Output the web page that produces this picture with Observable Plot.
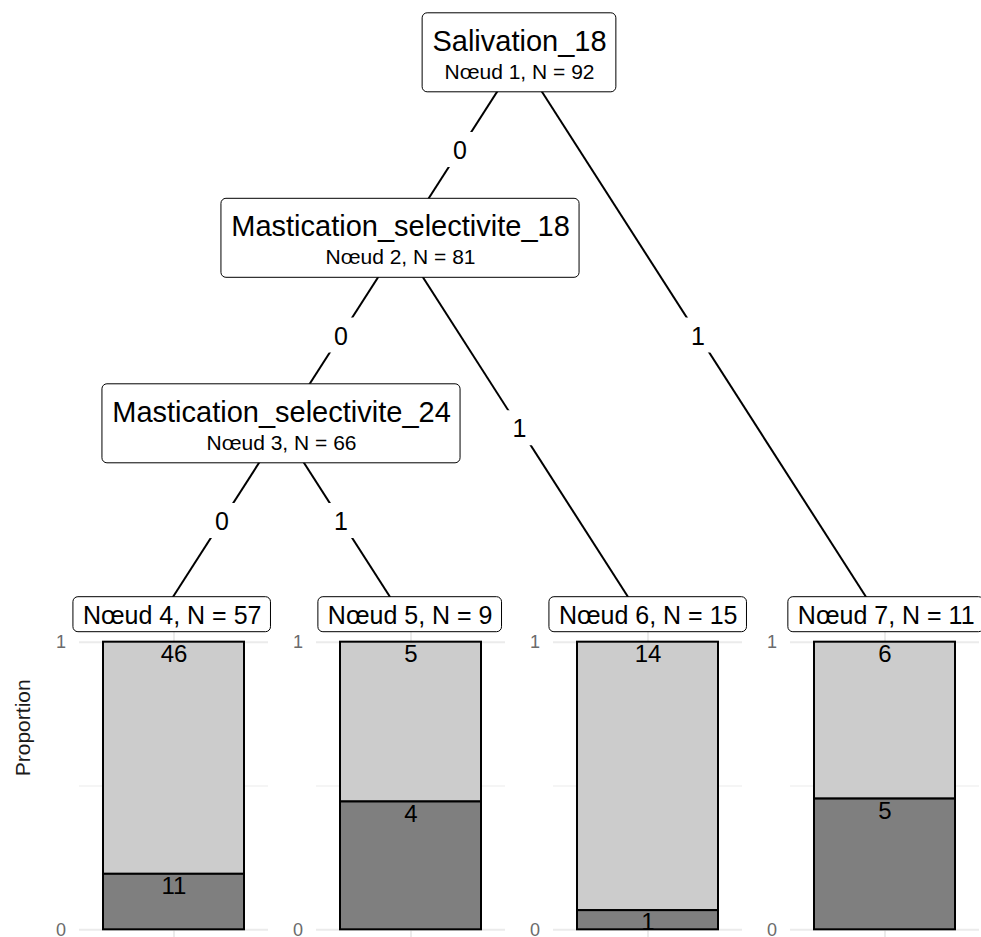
<!DOCTYPE html>
<html><head><meta charset="utf-8">
<script src="https://cdn.jsdelivr.net/npm/d3@7"></script>
<script src="https://cdn.jsdelivr.net/npm/@observablehq/plot@0.6"></script>
<style>
html,body{margin:0;padding:0;background:#fff;}
#chart{position:relative;width:981px;height:937px;overflow:hidden;background:#fff;}
#chart svg{position:absolute;left:0;top:0;}
</style></head><body><div id="chart"></div>
<script>
// ---- data ----
const nodeIds     = [1, 2, 3, 4, 5, 6, 7];
const nodeParents = [null, 1, 2, 3, 3, 2, 1];
const edgeLabels  = [null, "0", "0", "0", "1", "1", "1"];
const splitVars   = ["Salivation_18", "Mastication_selectivite_18", "Mastication_selectivite_24", null, null, null, null];
const nodeN       = [92, 81, 66, 57, 9, 15, 11];
const classLevels = ["0", "1"];
const countClass0 = [46, 5, 14, 6];   // terminal nodes 4..7
const countClass1 = [11, 4, 1, 5];
const yTicks = [0, 1];
const yTitle = "Proportion";
const nodeWord = "Nœud";

// ---- styling / layout constants ----
const FONT = "Liberation Sans, Arial, Helvetica, sans-serif";
const W = 981, H = 937;
const TX0 = 162, TX1 = 876, TY0 = 56.3, TY1 = 612.8;

const canvas = document.createElement("canvas");
const ctx = canvas.getContext("2d");
function textWidth(s, size) { ctx.font = `${size}px "Liberation Sans", Arial, sans-serif`; return ctx.measureText(s).width; }

// ---- tree structure & layout ----
const nodes = nodeIds.map((id, i) => ({id, parent: nodeParents[i], edge: edgeLabels[i], split: splitVars[i], n: nodeN[i]}));
const byId = new Map(nodes.map(d => [d.id, d]));
nodes.forEach(d => { d.children = nodes.filter(c => c.parent === d.id); });
nodes.forEach(d => { let k = 0, p = d.parent; while (p != null) { k++; p = byId.get(p).parent; } d.depth = k; });
const leaves = nodes.filter(d => d.children.length === 0);
leaves.forEach((d, i) => { d.leafIndex = i + 1; });
const leafList = d => d.children.length ? d.children.flatMap(leafList) : [d];
nodes.forEach(d => { d.x = d3.mean(leafList(d), l => l.leafIndex); });
const maxDepth = d3.max(nodes, d => d.depth);
nodes.forEach(d => { d.level = d.children.length ? d.depth : maxDepth; d.info = `${nodeWord} ${d.id}, N = ${d.n}`; });
const inner = nodes.filter(d => d.children.length);

const kx = (TX1 - TX0) / (leaves.length - 1);
const ky = (TY1 - TY0) / maxDepth;

const edges = nodes.filter(d => d.parent != null).map(d => {
  const p = byId.get(d.parent);
  return {x1: p.x, y1: p.level, x2: d.x, y2: d.level, mx: (p.x + d.x) / 2, my: (p.level + d.level) / 2, label: d.edge};
});

const innerBoxes = inner.map(d => {
  const w = Math.max(textWidth(d.split, 29), textWidth(d.info, 21)) / 2 + 9.8;
  return {x1: d.x - w / kx, x2: d.x + w / kx, y1: d.level - 43.5 / ky, y2: d.level + 35.5 / ky};
});
const leafBoxes = leaves.map(d => {
  const w = textWidth(d.info, 25) / 2 + 9.5;
  const cx = d.x + 9.7 / kx;
  return {x1: cx - w / kx, x2: cx + w / kx, y1: d.level - 16.1 / ky, y2: d.level + 18.9 / ky};
});

// ---- bar data ----
const barRows = leaves.flatMap((d, i) => [
  {node: String(d.id), cls: classLevels[0], count: countClass0[i], prop: countClass0[i] / d.n},
  {node: String(d.id), cls: classLevels[1], count: countClass1[i], prop: countClass1[i] / d.n}
]);
const stackOrder = [classLevels[1], classLevels[0]];

const bars = Plot.plot({
  width: W, height: H,
  marginLeft: 78, marginRight: 0, marginTop: 627.3, marginBottom: 0,
  style: {fontFamily: FONT, background: "transparent"},
  fx: {domain: leaves.map(d => String(d.id)), paddingInner: 0.2017, paddingOuter: 0, axis: null, label: null},
  x: {domain: ["v"], paddingInner: 0, paddingOuter: 1 / 6, axis: null},
  y: {domain: [-0.05, 1.05], range: [943.7, 627.3], axis: null},
  color: {domain: classLevels, range: ["#cccccc", "#7f7f7f"]},
  marks: [
    Plot.ruleY(yTicks, {stroke: "#ebebeb", strokeWidth: 2}),
    Plot.ruleY([0.5], {stroke: "#ebebeb", strokeWidth: 1}),
    Plot.ruleX(["v"], {x: d => d, stroke: "#ebebeb", strokeWidth: 2}),
    Plot.barY(barRows, {fx: "node", x: () => "v", y: "prop", fill: "cls", stroke: "black", strokeWidth: 2, order: stackOrder}),
    Plot.text(barRows, Plot.stackY2({fx: "node", x: () => "v", y: "prop", z: "cls", order: stackOrder, text: d => String(d.count), fontSize: 24, dy: 12, fill: "black"})),
    Plot.text(yTicks, {y: d => d, frameAnchor: "left", dx: -13.5, textAnchor: "end", lineAnchor: "middle", text: d => String(d), fontSize: 18, fill: "#6b6b6b"}),
    Plot.text([{node: String(leaves[0].id)}], {fx: "node", frameAnchor: "top-left", textAnchor: "middle", lineAnchor: "middle", dx: -56, dy: 100, rotate: -90, text: () => yTitle, fontSize: 21, fill: "#1a1a1a"})
  ]
});

const tree = Plot.plot({
  width: W, height: H, margin: 0,
  style: {fontFamily: FONT, background: "transparent"},
  x: {domain: [1, leaves.length], range: [TX0, TX1], axis: null},
  y: {domain: [0, maxDepth], range: [TY0, TY1], axis: null},
  marks: [
    Plot.link(edges, {x1: "x1", y1: "y1", x2: "x2", y2: "y2", stroke: "black", strokeWidth: 2}),
    Plot.dot(edges, {x: "mx", y: "my", symbol: "square", r: 19.75, fill: "white", stroke: null}),
    Plot.text(edges, {x: "mx", y: "my", text: "label", fontSize: 25, dy: 1.5, fill: "black"}),
    Plot.rect(innerBoxes, {x1: "x1", x2: "x2", y1: "y1", y2: "y2", fill: "white", stroke: "black", strokeWidth: 1, rx: 5}),
    Plot.text(inner, {x: "x", y: "level", text: "split", fontSize: 29, dy: -15.3, fill: "black"}),
    Plot.text(inner, {x: "x", y: "level", text: "info", fontSize: 21, dy: 15.3, fill: "black"}),
    Plot.rect(leafBoxes, {x1: "x1", x2: "x2", y1: "y1", y2: "y2", fill: "white", stroke: "black", strokeWidth: 1, rx: 5}),
    Plot.text(leaves, {x: d => d.x + 9.7 / kx, y: "level", text: "info", fontSize: 25, dy: 2.5, fill: "black"})
  ]
});

const chart = document.getElementById("chart");
chart.append(bars, tree);
</script>
</body></html>
